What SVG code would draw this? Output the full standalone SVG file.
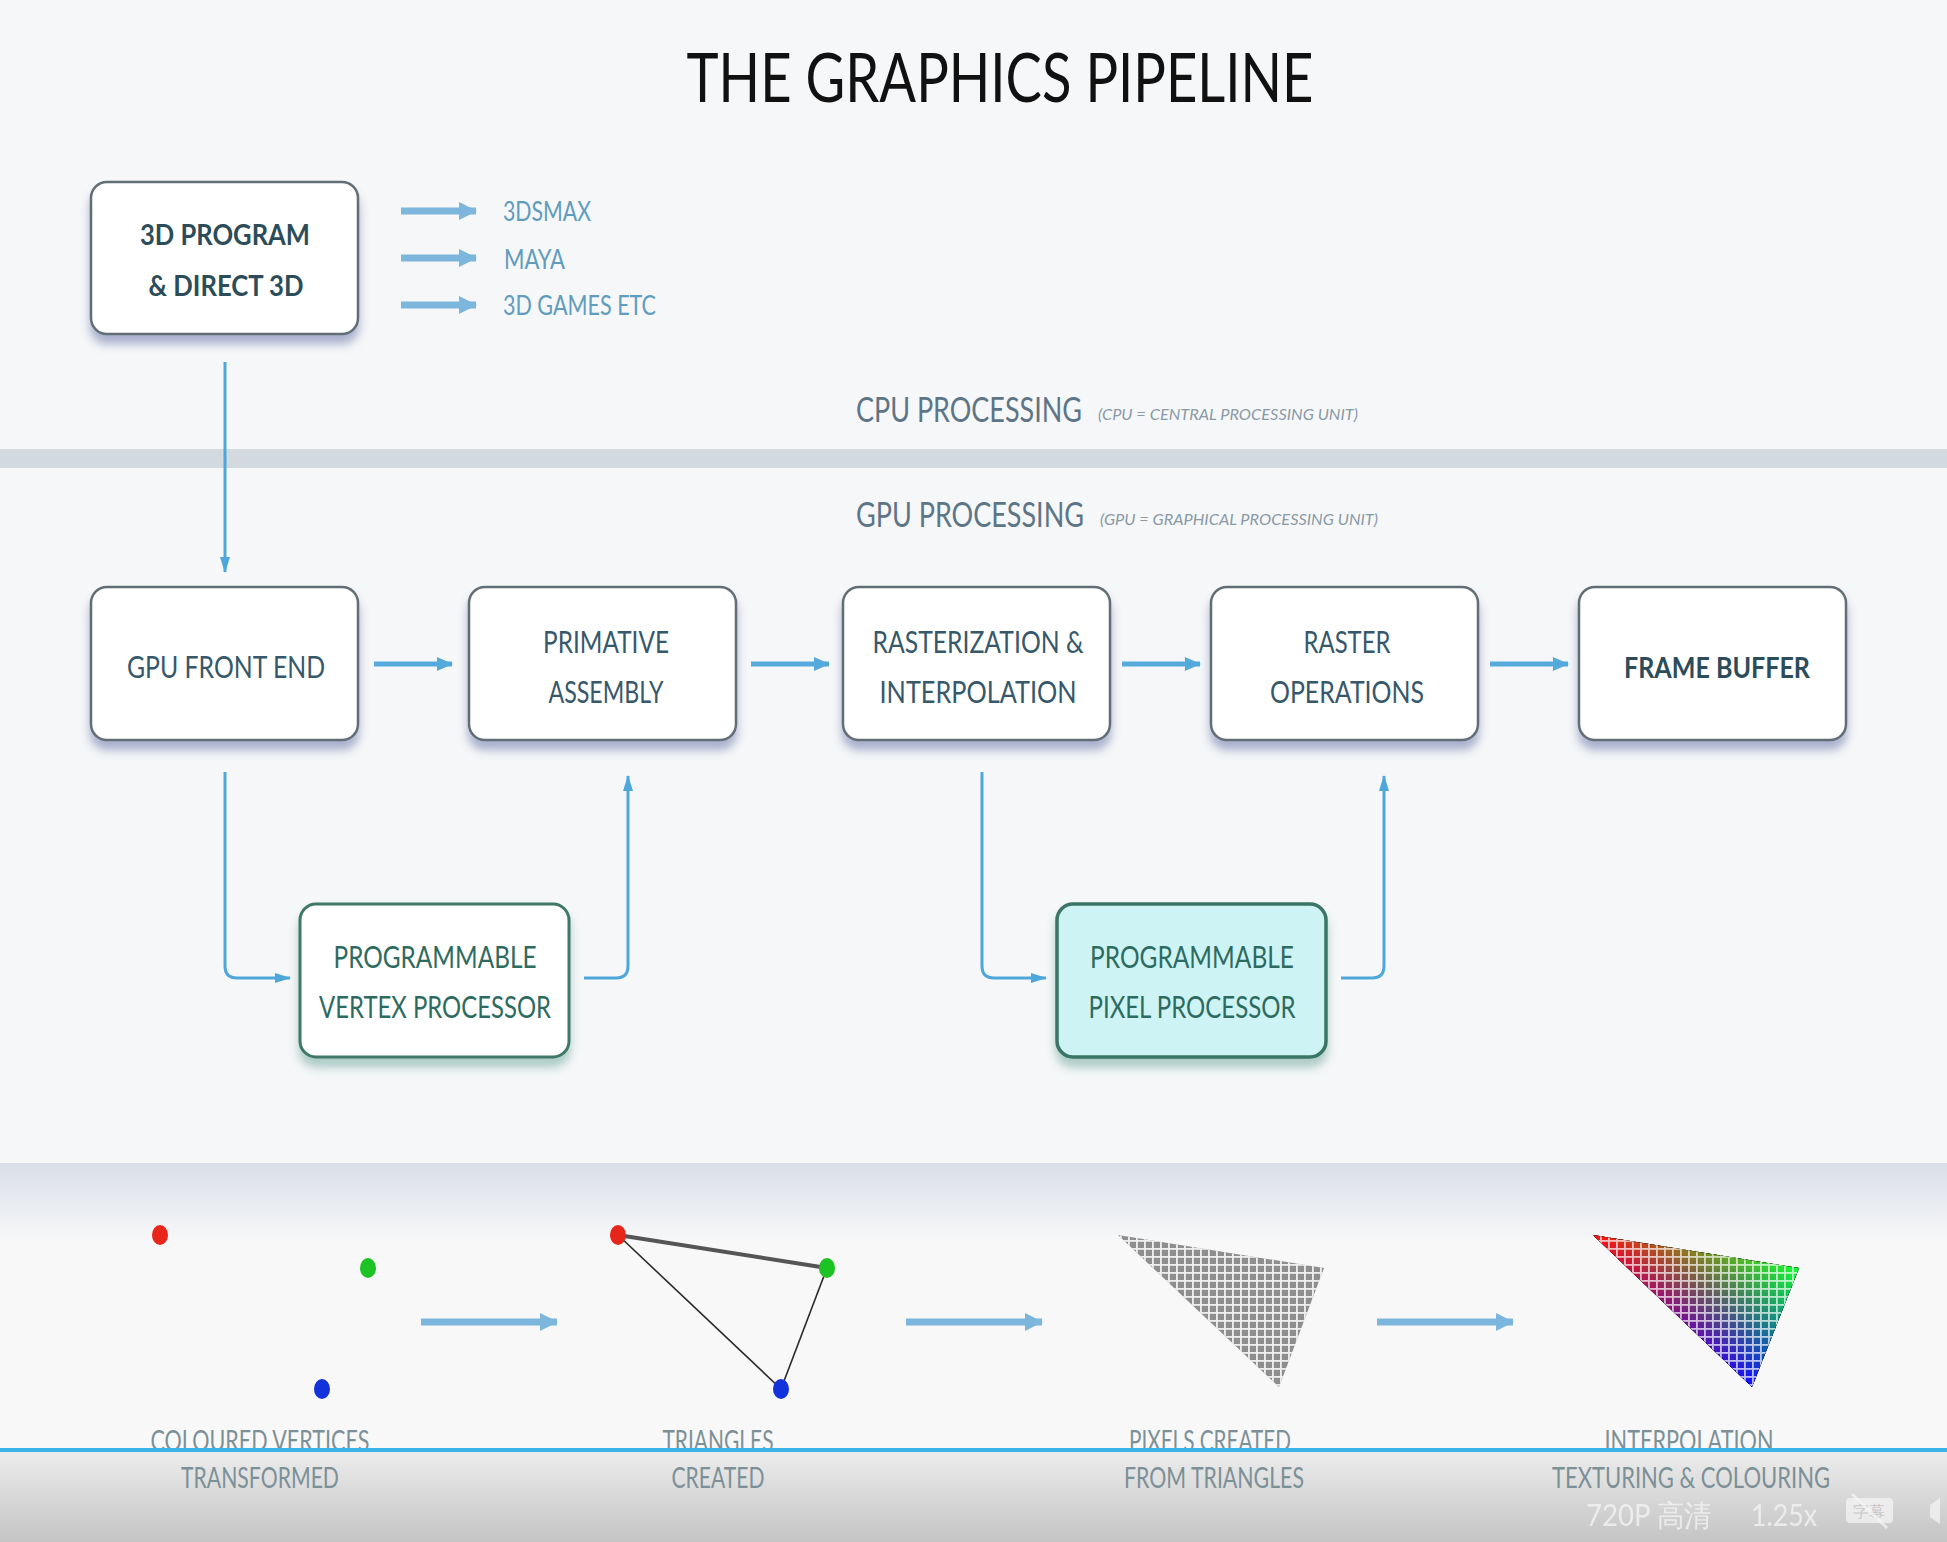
<svg xmlns="http://www.w3.org/2000/svg" width="1947" height="1542" viewBox="0 0 1947 1542">
<defs>
<style>
text{font-family:"Lato","Liberation Sans",sans-serif}
.title{font-size:67px;fill:#111;text-anchor:middle}
.bt{font-size:31px;fill:#36586a;text-anchor:middle}
.bb{font-size:29px;fill:#2c4c5a;text-anchor:middle;font-weight:bold}
.gt{font-size:31px;fill:#2e6b5f;text-anchor:middle}
.side{font-size:26px;fill:#5f9cbd}
.proc{font-size:35px;fill:#5d7586}
.sub{font-size:16px;fill:#8a9aa6;font-style:italic}
.lab{font-size:29px;fill:#7c9097;text-anchor:middle}
.box{fill:#fff;stroke:#626e75;stroke-width:2.5}
.gbox{fill:#fff;stroke:#3f7868;stroke-width:3}
.pbox{fill:#cdf3f5;stroke:#3a7565;stroke-width:3.5}
.con{fill:none;stroke:#4ea7da;stroke-width:3}
.hcon{fill:none;stroke:#55a9dc;stroke-width:5}
.thick{fill:none;stroke:#7db6dc;stroke-width:7}
.wm{font-size:30px;fill:#f6f6f6;opacity:.75}
</style>
<filter id="sh" x="-20%" y="-20%" width="140%" height="150%">
<feDropShadow dx="0" dy="9" stdDeviation="5" flood-color="#4a5a9a" flood-opacity="0.45"/>
</filter>
<filter id="shg" x="-20%" y="-20%" width="140%" height="150%">
<feDropShadow dx="0" dy="9" stdDeviation="5" flood-color="#3f8a7c" flood-opacity="0.4"/>
</filter>
<filter id="blur1"><feGaussianBlur stdDeviation="0.7"/></filter>
<marker id="ah" viewBox="0 0 16 12" refX="15" refY="6" markerWidth="16" markerHeight="12" markerUnits="userSpaceOnUse" orient="auto">
<path d="M0,1 L16,6 L0,11 z" fill="#4ea7da"/>
</marker>
<marker id="ahh" viewBox="0 0 16 14" refX="15" refY="7" markerWidth="16" markerHeight="14" markerUnits="userSpaceOnUse" orient="auto">
<path d="M0,0 L16,7 L0,14 z" fill="#55a9dc"/>
</marker>
<marker id="ahb" viewBox="0 0 18 18" refX="17" refY="9" markerWidth="18" markerHeight="18" markerUnits="userSpaceOnUse" orient="auto">
<path d="M0,0 L18,9 L0,18 z" fill="#7db6dc"/>
</marker>
<linearGradient id="band" x1="0" y1="0" x2="0" y2="1">
<stop offset="0" stop-color="#d9dfe7"/>
<stop offset="1" stop-color="#f8f8f9"/>
</linearGradient>
<linearGradient id="bar" x1="0" y1="0" x2="0" y2="1">
<stop offset="0" stop-color="#ececec"/>
<stop offset="1" stop-color="#c4c4c4"/>
</linearGradient>
<pattern id="grid" x="0" y="0" width="8" height="8" patternUnits="userSpaceOnUse">
<rect x="0" y="0" width="8" height="1.8" fill="#fff"/>
<rect x="0" y="0" width="1.8" height="8" fill="#fff"/>
</pattern>
<linearGradient id="gR" gradientUnits="userSpaceOnUse" x1="1593" y1="1235" x2="1782" y2="1310">
<stop offset="0" stop-color="#ff1010"/><stop offset="1" stop-color="#000"/>
</linearGradient>
<linearGradient id="gG" gradientUnits="userSpaceOnUse" x1="1799" y1="1268" x2="1717" y2="1354">
<stop offset="0" stop-color="#10ff30"/><stop offset="1" stop-color="#000"/>
</linearGradient>
<linearGradient id="gB" gradientUnits="userSpaceOnUse" x1="1752" y1="1387" x2="1772" y2="1264">
<stop offset="0" stop-color="#1010ff"/><stop offset="1" stop-color="#000"/>
</linearGradient>
</defs>

<rect x="0" y="0" width="1947" height="1542" fill="#f6f7f8"/>
<rect x="0" y="449" width="1947" height="19" fill="#d2d9df"/>
<rect x="0" y="1163" width="1947" height="80" fill="url(#band)"/>
<rect x="0" y="1243" width="1947" height="207" fill="#f8f8f8"/>

<text class="title" x="1000" y="102" textLength="627" lengthAdjust="spacingAndGlyphs">THE GRAPHICS PIPELINE</text>

<text class="proc" x="856" y="422"><tspan textLength="226" lengthAdjust="spacingAndGlyphs">CPU PROCESSING</tspan><tspan class="sub" x="1098" y="420" textLength="260" lengthAdjust="spacingAndGlyphs">(CPU = CENTRAL PROCESSING UNIT)</tspan></text>
<text class="proc" x="856" y="527"><tspan textLength="228" lengthAdjust="spacingAndGlyphs">GPU PROCESSING</tspan><tspan class="sub" x="1100" y="525" textLength="278" lengthAdjust="spacingAndGlyphs">(GPU = GRAPHICAL PROCESSING UNIT)</tspan></text>

<g id="connectors">
<line class="thick" x1="401" y1="211" x2="476" y2="211" marker-end="url(#ahb)"/>
<line class="thick" x1="401" y1="258" x2="476" y2="258" marker-end="url(#ahb)"/>
<line class="thick" x1="401" y1="305" x2="476" y2="305" marker-end="url(#ahb)"/>
<line class="con" x1="225" y1="362" x2="225" y2="572" marker-end="url(#ah)"/>
<line class="hcon" x1="374" y1="664" x2="452" y2="664" marker-end="url(#ahh)"/>
<line class="hcon" x1="751" y1="664" x2="829" y2="664" marker-end="url(#ahh)"/>
<line class="hcon" x1="1122" y1="664" x2="1200" y2="664" marker-end="url(#ahh)"/>
<line class="hcon" x1="1490" y1="664" x2="1568" y2="664" marker-end="url(#ahh)"/>
<path class="con" d="M225,772 V966 Q225,978 237,978 H290" marker-end="url(#ah)"/>
<path class="con" d="M584,978 H616 Q628,978 628,966 V776" marker-end="url(#ah)"/>
<path class="con" d="M982,772 V966 Q982,978 994,978 H1046" marker-end="url(#ah)"/>
<path class="con" d="M1341,978 H1372 Q1384,978 1384,966 V776" marker-end="url(#ah)"/>
<line class="thick" x1="421" y1="1322" x2="557" y2="1322" marker-end="url(#ahb)"/>
<line class="thick" x1="906" y1="1322" x2="1042" y2="1322" marker-end="url(#ahb)"/>
<line class="thick" x1="1377" y1="1322" x2="1513" y2="1322" marker-end="url(#ahb)"/>
</g>

<g id="n-program">
<rect class="box" x="91" y="182" width="267" height="152" rx="16" filter="url(#sh)"/>
<text class="bb" x="225" y="245" textLength="170" lengthAdjust="spacingAndGlyphs">3D PROGRAM</text>
<text class="bb" x="226" y="296" textLength="155" lengthAdjust="spacingAndGlyphs">&amp; DIRECT 3D</text>
</g>
<g id="n-apps">
<text class="side" x="503" y="221" textLength="88" lengthAdjust="spacingAndGlyphs">3DSMAX</text>
<text class="side" x="504" y="269" textLength="61" lengthAdjust="spacingAndGlyphs">MAYA</text>
<text class="side" x="503" y="315" textLength="153" lengthAdjust="spacingAndGlyphs">3D GAMES ETC</text>
</g>

<g id="n-frontend">
<rect class="box" x="91" y="587" width="267" height="153" rx="16" filter="url(#sh)"/>
<text class="bt" x="226" y="678" textLength="198" lengthAdjust="spacingAndGlyphs">GPU FRONT END</text>
</g>
<g id="n-primitive">
<rect class="box" x="469" y="587" width="267" height="153" rx="16" filter="url(#sh)"/>
<text class="bt" x="606" y="653" textLength="126" lengthAdjust="spacingAndGlyphs">PRIMATIVE</text>
<text class="bt" x="606" y="703" textLength="115" lengthAdjust="spacingAndGlyphs">ASSEMBLY</text>
</g>
<g id="n-raster-interp">
<rect class="box" x="843" y="587" width="267" height="153" rx="16" filter="url(#sh)"/>
<text class="bt" x="978" y="653" textLength="211" lengthAdjust="spacingAndGlyphs">RASTERIZATION &amp;</text>
<text class="bt" x="978" y="703" textLength="197" lengthAdjust="spacingAndGlyphs">INTERPOLATION</text>
</g>
<g id="n-raster-ops">
<rect class="box" x="1211" y="587" width="267" height="153" rx="16" filter="url(#sh)"/>
<text class="bt" x="1347" y="653" textLength="87" lengthAdjust="spacingAndGlyphs">RASTER</text>
<text class="bt" x="1347" y="703" textLength="154" lengthAdjust="spacingAndGlyphs">OPERATIONS</text>
</g>
<g id="n-framebuffer">
<rect class="box" x="1579" y="587" width="267" height="153" rx="16" filter="url(#sh)"/>
<text class="bb" x="1717" y="678" textLength="186" lengthAdjust="spacingAndGlyphs">FRAME BUFFER</text>
</g>
<g id="n-vertex">
<rect class="gbox" x="300" y="904" width="269" height="153" rx="16" filter="url(#shg)"/>
<text class="gt" x="435" y="968" textLength="203" lengthAdjust="spacingAndGlyphs">PROGRAMMABLE</text>
<text class="gt" x="435" y="1018" textLength="232" lengthAdjust="spacingAndGlyphs">VERTEX PROCESSOR</text>
</g>
<g id="n-pixel">
<rect class="pbox" x="1057" y="904" width="269" height="153" rx="16" filter="url(#shg)"/>
<text class="gt" x="1192" y="968" textLength="204" lengthAdjust="spacingAndGlyphs">PROGRAMMABLE</text>
<text class="gt" x="1192" y="1018" textLength="207" lengthAdjust="spacingAndGlyphs">PIXEL PROCESSOR</text>
</g>

<g id="stage-vertices">
<ellipse cx="160" cy="1235" rx="8" ry="10" fill="#e8251b"/>
<ellipse cx="368" cy="1268" rx="8" ry="10" fill="#1dc224"/>
<ellipse cx="322" cy="1389" rx="8" ry="10" fill="#1232dc"/>
</g>
<g id="stage-triangle">
<line x1="618" y1="1235" x2="827" y2="1268" stroke="#555" stroke-width="4"/>
<line x1="618" y1="1235" x2="781" y2="1389" stroke="#2a2a2a" stroke-width="1.6"/>
<line x1="827" y1="1268" x2="781" y2="1389" stroke="#2a2a2a" stroke-width="1.6"/>
<ellipse cx="618" cy="1235" rx="8" ry="10" fill="#e8251b"/>
<ellipse cx="827" cy="1268" rx="8" ry="10" fill="#1dc224"/>
<ellipse cx="781" cy="1389" rx="8" ry="10" fill="#1232dc"/>
</g>
<g id="stage-pixels" filter="url(#blur1)">
<polygon points="1118,1235 1324,1268 1279,1387" fill="#8e8e8e"/>
<polygon points="1118,1235 1324,1268 1279,1387" fill="url(#grid)" opacity="0.85"/>
</g>
<g id="stage-colour" filter="url(#blur1)">
<g style="isolation:isolate">
<polygon points="1593,1235 1799,1268 1752,1387" fill="#000"/>
<polygon points="1593,1235 1799,1268 1752,1387" fill="url(#gR)" style="mix-blend-mode:screen"/>
<polygon points="1593,1235 1799,1268 1752,1387" fill="url(#gG)" style="mix-blend-mode:screen"/>
<polygon points="1593,1235 1799,1268 1752,1387" fill="url(#gB)" style="mix-blend-mode:screen"/>
</g>
<polygon points="1593,1235 1799,1268 1752,1387" fill="url(#grid)" opacity="0.7"/>
</g>

<rect x="0" y="1452" width="1947" height="90" fill="url(#bar)"/>

<g id="labels">
<text class="lab" x="260" y="1451" textLength="219" lengthAdjust="spacingAndGlyphs">COLOURED VERTICES</text>
<text class="lab" x="260" y="1488" textLength="158" lengthAdjust="spacingAndGlyphs">TRANSFORMED</text>
<text class="lab" x="718" y="1451" textLength="111" lengthAdjust="spacingAndGlyphs">TRIANGLES</text>
<text class="lab" x="718" y="1488" textLength="93" lengthAdjust="spacingAndGlyphs">CREATED</text>
<text class="lab" x="1210" y="1451" textLength="162" lengthAdjust="spacingAndGlyphs">PIXELS CREATED</text>
<text class="lab" x="1214" y="1488" textLength="180" lengthAdjust="spacingAndGlyphs">FROM TRIANGLES</text>
<text class="lab" x="1689" y="1451" textLength="169" lengthAdjust="spacingAndGlyphs">INTERPOLATION</text>
<text class="lab" x="1691" y="1488" textLength="278" lengthAdjust="spacingAndGlyphs">TEXTURING &amp; COLOURING</text>
</g>

<rect x="0" y="1448" width="1947" height="4" fill="#38b4e8"/>

<g id="player-overlay">
<text class="wm" x="1586" y="1526" textLength="126" lengthAdjust="spacingAndGlyphs" font-family="Lato, 'Noto Sans CJK SC', sans-serif">720P 高清</text>
<text class="wm" x="1751" y="1526" textLength="66" lengthAdjust="spacingAndGlyphs">1.25x</text>
<rect x="1846" y="1498" width="47" height="25" rx="4" fill="#f6f6f6" opacity="0.7"/>
<text x="1869" y="1517" font-size="16" fill="#c8c8c8" text-anchor="middle" font-family="'Noto Sans CJK SC', sans-serif">字幕</text>
<line x1="1852" y1="1494" x2="1887" y2="1528" stroke="#f6f6f6" stroke-width="3" opacity="0.7"/>
<polygon points="1930,1505 1940,1498 1940,1524 1930,1517" fill="#f6f6f6" opacity="0.7"/>
</g>
</svg>
